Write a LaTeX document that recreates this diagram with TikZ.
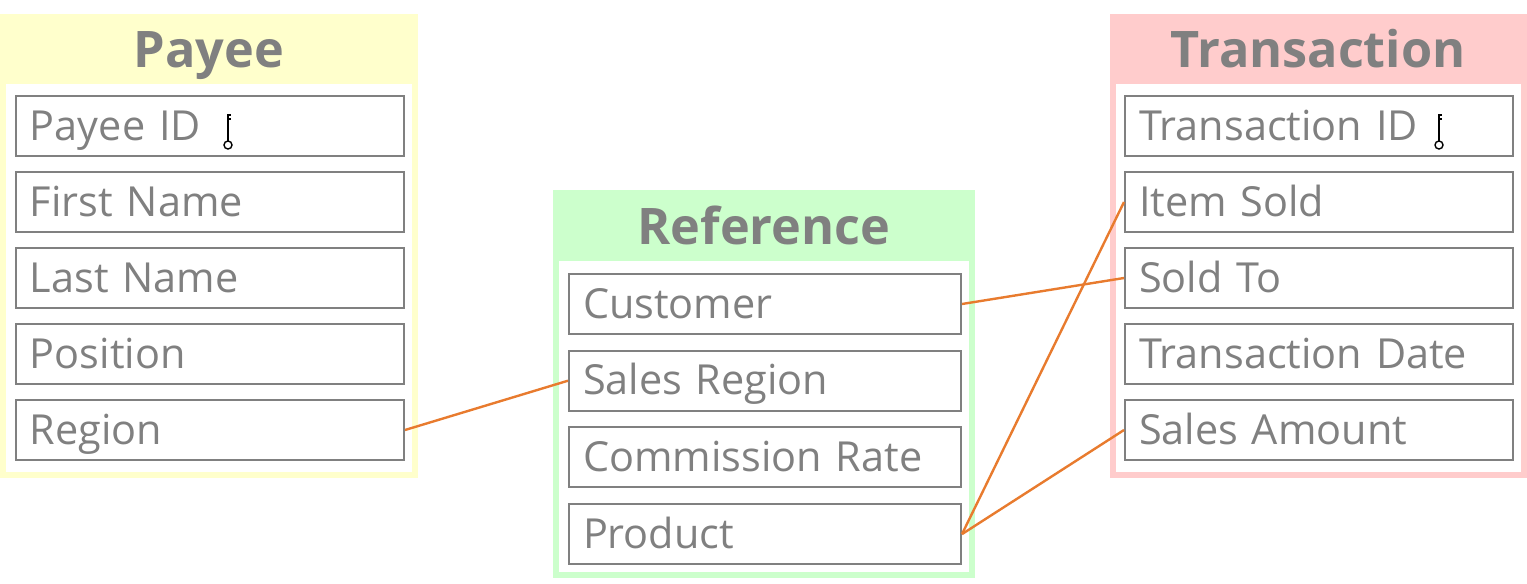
\documentclass[tikz,border=0pt]{standalone}
\usepackage{fontspec}
\setmainfont{Open Sans}
\usetikzlibrary{positioning}
\definecolor{textgray}{HTML}{808080}
\definecolor{payeebg}{HTML}{FFFFCC}
\definecolor{refbg}{HTML}{CCFFCC}
\definecolor{transbg}{HTML}{FFCCCC}
\definecolor{linkorange}{HTML}{E87B2E}
\tikzset{
  row/.style={draw=textgray, line width=1pt, fill=white, minimum height=30pt,
    text width=#1, inner xsep=7pt, inner ysep=0pt, anchor=north west,
    text height=15pt, text depth=1pt,
    font=\fontsize{20.7}{21}\selectfont, text=textgray, align=left},
  title/.style={font=\fontsize{25.2}{25}\selectfont\bfseries, text=textgray, anchor=base},
  link/.style={linkorange, line width=1.2pt}
}
\newcommand{\keyicon}[1]{%
  \draw[line width=0.8pt] ([xshift=2pt,yshift=-7pt]#1) -- ++(0,13pt) -- ++(1.5pt,0)
    ([xshift=2pt,yshift=4pt]#1) -- ++(1.5pt,0);
  \draw[line width=0.7pt, fill=white] ([xshift=2pt,yshift=-9pt]#1) circle (2pt);}
\begin{document}
\begin{tikzpicture}[x=0.5pt, y=-0.5pt]
\useasboundingbox (0,0) rectangle (1527,584);
% payee
\fill[payeebg] (0,14) rectangle (418,478);
\fill[white] (6,84) rectangle (412,472);
\node[title] (payee) at (209,67) {Payee};
\foreach \n/\t [count=\i from 0] in {payeeid/Payee ID, first/First Name, last/Last Name, position/Position, region/Region}
  \node[row=180pt] (\n) at (15,95+\i*76) {\t};
% reference
\fill[refbg] (553,190) rectangle (975,578);
\fill[white] (559,261) rectangle (969,572);
\node[title] (reference) at (764,244) {Reference};
\foreach \n/\t [count=\i from 0] in {customer/Customer, salesregion/Sales Region, commission/Commission Rate, product/Product}
  \node[row=182pt] (\n) at (568,273+\i*76.7) {\t};
% transaction
\fill[transbg] (1110,14) rectangle (1527,478);
\fill[white] (1116,84) rectangle (1521,472);
\node[title] (transaction) at (1318,67) {Transaction};
\foreach \n/\t [count=\i from 0] in {transid/Transaction ID, itemsold/Item Sold, soldto/Sold To, transdate/Transaction Date, amount/Sales Amount}
  \node[row=180pt] (\n) at (1124,95+\i*76) {\t};
% keys
\coordinate (k1) at (224,127);
\coordinate (k2) at (1435,127);
\keyicon{k1}
\keyicon{k2}
% links
\draw[link] (region.east) -- (salesregion.west);
\draw[link] (customer.east) -- (soldto.west);
\draw[link] (product.east) -- (itemsold.west);
\draw[link] (product.east) -- (amount.west);
\end{tikzpicture}
\end{document}
